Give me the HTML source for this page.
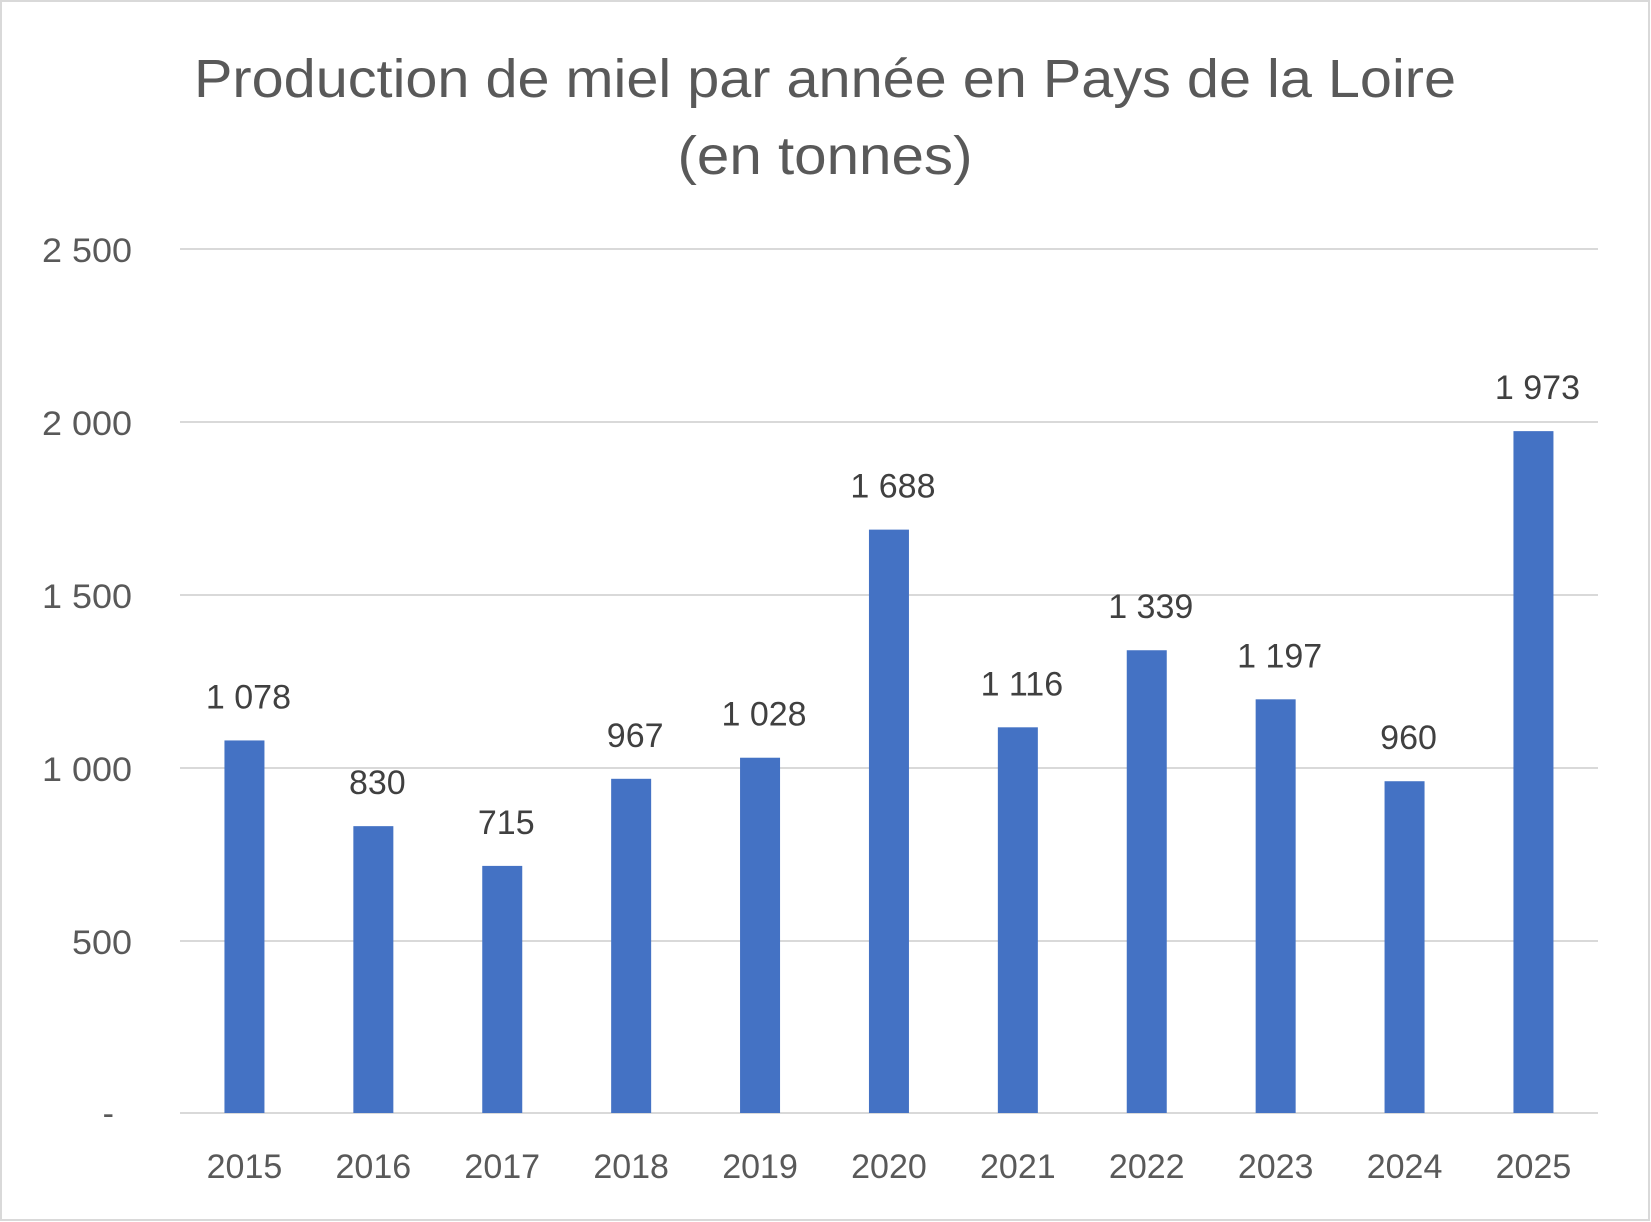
<!DOCTYPE html>
<html><head><meta charset="utf-8"><style>
html,body{margin:0;padding:0;background:#fff}
svg{display:block}
</style></head><body>
<svg width="1651" height="1222" viewBox="0 0 1651 1222" xmlns="http://www.w3.org/2000/svg" font-family="Liberation Sans, sans-serif">
<rect x="1" y="1" width="1648" height="1219" fill="#fff" stroke="#d9d9d9" stroke-width="2"/>
<text x="825" y="97" text-anchor="middle" font-size="54" fill="#595959" textLength="1262" lengthAdjust="spacingAndGlyphs">Production de miel par année en Pays de la Loire</text>
<text x="825" y="174" text-anchor="middle" font-size="54" fill="#595959" textLength="295" lengthAdjust="spacingAndGlyphs">(en tonnes)</text>
<g stroke="#d9d9d9" stroke-width="2">
<line x1="180" x2="1598" y1="249" y2="249"/>
<line x1="180" x2="1598" y1="422" y2="422"/>
<line x1="180" x2="1598" y1="595" y2="595"/>
<line x1="180" x2="1598" y1="768" y2="768"/>
<line x1="180" x2="1598" y1="941" y2="941"/>
<line x1="180" x2="1598" y1="1113" y2="1113"/>
</g>
<g font-size="34" fill="#595959" text-anchor="end">
<text x="132" y="262" textLength="90" lengthAdjust="spacingAndGlyphs">2 500</text>
<text x="132" y="435" textLength="90" lengthAdjust="spacingAndGlyphs">2 000</text>
<text x="132" y="608" textLength="90" lengthAdjust="spacingAndGlyphs">1 500</text>
<text x="132" y="781" textLength="90" lengthAdjust="spacingAndGlyphs">1 000</text>
<text x="132" y="954" textLength="60" lengthAdjust="spacingAndGlyphs">500</text>
<text x="114" y="1125">-</text>
</g>
<g id="bars" fill="#4472c4"></g>
<g id="lbl" font-size="34" fill="#404040" text-anchor="middle"></g>
<g id="yr" font-size="34" fill="#595959" text-anchor="middle"></g>
<script>
var v=[1078,830,715,967,1028,1688,1116,1339,1197,960,1973];
var s=864/2500,b=document.getElementById('bars'),l=document.getElementById('lbl'),y=document.getElementById('yr');
var ns='http://www.w3.org/2000/svg';
v.forEach(function(d,i){
 var c=180+128.9*(i+0.5),t=1113-d*s;
 var r=document.createElementNS(ns,'rect');r.setAttribute('x',c-20);r.setAttribute('y',t);r.setAttribute('width',40);r.setAttribute('height',1113-t);b.appendChild(r);
 var tx=document.createElementNS(ns,'text');tx.setAttribute('x',c+4);tx.setAttribute('y',t-32);
 var str=String(d);if(d>=1000)str=str[0]+' '+str.slice(1);tx.textContent=str;l.appendChild(tx);
 var yy=document.createElementNS(ns,'text');yy.setAttribute('x',c);yy.setAttribute('y',1178);yy.textContent=2015+i;y.appendChild(yy);
});
</script>
</svg>
</body></html>
